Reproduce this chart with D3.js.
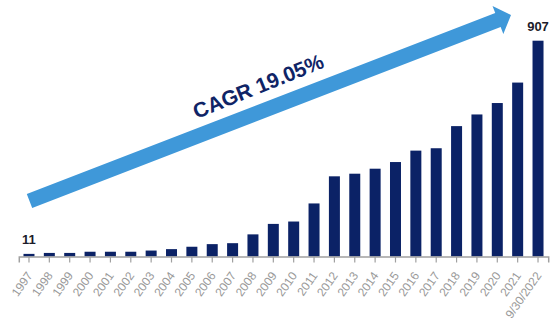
<!DOCTYPE html>
<html>
<head>
<meta charset="utf-8">
<script src="https://cdn.jsdelivr.net/npm/d3@7"></script>
<style>
  html, body { margin: 0; padding: 0; background: #ffffff; }
  svg { display: block; }
</style>
</head>
<body>
<svg id="chart" width="559" height="333"></svg>
<script>
const categories = ["1997","1998","1999","2000","2001","2002","2003","2004","2005","2006","2007","2008","2009","2010","2011","2012","2013","2014","2015","2016","2017","2018","2019","2020","2021","9/30/2022"];
const values = [11, 15, 15, 20, 20, 20, 25, 31, 41, 52, 56, 93, 137, 147, 223, 337, 348, 369, 397, 445, 455, 548, 597, 645, 731, 907];
const labeledCategories = ["1997", "9/30/2022"];
const annotationText = "CAGR 19.05%";

const FONT = "'Liberation Sans', Arial, Helvetica, sans-serif";
const svg = d3.select("#chart");
const baseY = 256.5;

const x = d3.scaleBand()
  .domain(categories)
  .range([18.8, 548.2])
  .paddingInner(0.46)
  .paddingOuter(0.23);

const y = d3.scaleLinear()
  .domain([0, d3.max(values)])
  .range([baseY, 40.7]);

const data = categories.map((c, i) => ({ c, v: values[i] }));

// Arrow annotation
const T = [29.5, 201], P = [511, 15];
const dx = P[0] - T[0], dy = P[1] - T[1];
const len = Math.hypot(dx, dy);
const u = [dx / len, dy / len];
const n = [-u[1], u[0]];
const hw = 7.5, headLen = 14, headHw = 15;
const B = [P[0] - u[0] * headLen, P[1] - u[1] * headLen];
const pt = (p, k) => [p[0] + n[0] * k, p[1] + n[1] * k];
const arrowPts = [pt(T, -hw), pt(B, -hw), pt(B, -headHw), P, pt(B, headHw), pt(B, hw), pt(T, hw)];
svg.append("polygon")
  .attr("points", arrowPts.map(p => p.join(",")).join(" "))
  .attr("fill", "#3f98d9");

const angle = Math.atan2(dy, dx) * 180 / Math.PI;
svg.append("text")
  .attr("transform", `translate(261,93) rotate(${angle - 0.8})`)
  .attr("text-anchor", "middle")
  .attr("font-family", FONT)
  .attr("font-weight", "bold")
  .attr("font-size", 21)
  .attr("fill", "#0f2466")
  .text(annotationText);

// Bars
svg.append("g").selectAll("rect")
  .data(data)
  .join("rect")
  .attr("x", d => x(d.c))
  .attr("width", x.bandwidth())
  .attr("y", d => y(d.v))
  .attr("height", d => baseY - y(d.v))
  .attr("fill", "#0b2266");

// Axis
const axis = svg.append("g")
  .attr("transform", `translate(0,${baseY})`)
  .call(d3.axisBottom(x).tickSizeOuter(0).tickSize(6));
axis.select(".domain").attr("stroke", "#a0a0a0").attr("stroke-width", 1.5);
axis.selectAll(".tick line").attr("stroke", "#a0a0a0").attr("stroke-width", 1.2);
axis.selectAll(".tick text")
  .attr("x", 0).attr("y", 0).attr("dy", 0)
  .attr("transform", "translate(4,19) rotate(-55)")
  .attr("text-anchor", "end")
  .attr("font-family", FONT)
  .attr("font-size", 12)
  .attr("fill", "#999999");

// Value labels
svg.append("g").selectAll("text")
  .data(data.filter(d => labeledCategories.includes(d.c)))
  .join("text")
  .attr("x", d => x(d.c) + x.bandwidth() / 2)
  .attr("y", d => y(d.v) - 10)
  .attr("text-anchor", "middle")
  .attr("font-family", FONT)
  .attr("font-weight", "bold")
  .attr("font-size", 13)
  .attr("fill", "#1c1c2a")
  .text(d => d.v);
</script>
</body>
</html>
